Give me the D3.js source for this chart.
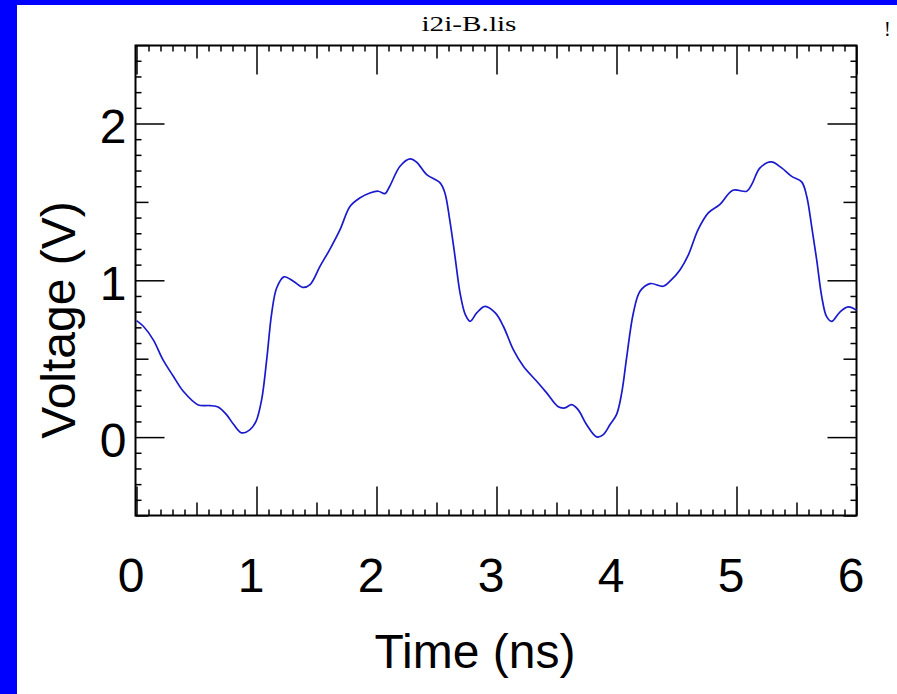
<!DOCTYPE html>
<html lang="en">
<head>
    <meta charset="UTF-8">
    <title>i2i-B.lis</title>
    <style>
      body { margin: 0; background: #fff; }
      svg text { fill: #000; }
    </style>
</head>
<body>

<div id="my_dataviz"></div>

<script src="https://d3js.org/d3.v7.min.js"></script>
<script>
    // waveform: time (ns) and voltage (V)
    const timeNs = [0, 0.057, 0.14, 0.22, 0.307, 0.39, 0.515, 0.61, 0.68, 0.75, 0.81, 0.877, 0.946, 0.996,
      1.043, 1.085, 1.127, 1.168, 1.229, 1.307, 1.385, 1.446, 1.529, 1.61, 1.696, 1.78, 1.86, 1.945,
      2.015, 2.07, 2.11, 2.196, 2.279, 2.335, 2.418, 2.53, 2.57, 2.61, 2.654, 2.696, 2.74, 2.78, 2.835, 2.904, 2.99,
      3.057, 3.14, 3.224, 3.335, 3.418, 3.515, 3.57, 3.626, 3.68, 3.75, 3.835, 3.89, 3.946,
      4.0, 4.043, 4.085, 4.14, 4.196, 4.28, 4.39, 4.446, 4.53, 4.6, 4.68, 4.765, 4.86, 4.97,
      5.085, 5.126, 5.196, 5.29, 5.376, 5.46, 5.543, 5.585, 5.626, 5.668, 5.71, 5.75, 5.793, 5.86, 5.93, 6.0];
    const voltage = [0.743, 0.707, 0.62, 0.494, 0.388, 0.292, 0.205, 0.201, 0.192, 0.143, 0.08, 0.027, 0.048, 0.10,
      0.239, 0.494, 0.792, 0.951, 1.022, 0.994, 0.955, 0.973, 1.089, 1.196, 1.323, 1.472, 1.525, 1.557,
      1.568, 1.553, 1.6, 1.727, 1.774, 1.753, 1.674, 1.621, 1.557, 1.387, 1.153, 0.92, 0.781, 0.738, 0.792, 0.834, 0.792,
      0.707, 0.558, 0.452, 0.356, 0.282, 0.193, 0.186, 0.207, 0.175, 0.08, 0.001, 0.016, 0.08,
      0.143, 0.28, 0.51, 0.79, 0.93, 0.979, 0.962, 0.994, 1.068, 1.164, 1.323, 1.43, 1.483, 1.574,
      1.568, 1.61, 1.717, 1.755, 1.717, 1.663, 1.628, 1.536, 1.345, 1.132, 0.898, 0.77, 0.738, 0.796, 0.83, 0.809];

    const xTickLabels = [0, 1, 2, 3, 4, 5, 6];
    const yTickLabels = [0, 1, 2];
    const xDomain = [0, 6];
    const yDomain = [-0.5, 2.5];

    const W = 897, H = 694;
    const frame = {left: 135.5, right: 856.5, top: 45.5, bottom: 515.5};
    const sans = "'Liberation Sans', Arial, sans-serif";
    const serif = "'Liberation Serif', 'Times New Roman', serif";

    const svg = d3.select("#my_dataviz")
      .append("svg")
        .attr("width", W)
        .attr("height", H);

    // blue page border (left + top)
    svg.append("rect").attr("x", 0).attr("y", 0).attr("width", W).attr("height", H).attr("fill", "#0000ff");
    svg.append("rect").attr("x", 17).attr("y", 5).attr("width", W - 17).attr("height", H - 5).attr("fill", "#fff");

    const x = d3.scaleLinear().domain(xDomain).range([136.5, 856.5]);
    const y = d3.scaleLinear().domain(yDomain).range([frame.bottom, 45.1]);

    // tick positions in tenths
    const xAll = d3.range(0, 61).map(i => i / 10);
    const yAll = d3.range(-5, 26).map(i => i / 10);
    const isMajor = v => Math.abs(v - Math.round(v)) < 1e-6;
    const isHalf = v => !isMajor(v) && Math.abs(v * 2 - Math.round(v * 2)) < 1e-6;
    const isMinor = v => !isMajor(v) && !isHalf(v);

    const sizes = [[isMajor, 29], [isHalf, 13], [isMinor, 6]];

    function drawAxis(make, scale, vals, transform) {
      sizes.forEach(([test, len]) => {
        const g = svg.append("g")
          .attr("transform", transform)
          .call(make(scale).tickValues(vals.filter(test)).tickSize(-len).tickFormat(""));
        g.select(".domain").remove();
        g.selectAll("line").attr("stroke", "#000").attr("stroke-width", 1.5);
      });
    }

    drawAxis(d3.axisBottom, x, xAll, `translate(0,${frame.bottom})`);
    drawAxis(d3.axisTop, x, xAll, `translate(0,${frame.top})`);
    drawAxis(d3.axisLeft, y, yAll, `translate(${frame.left},0)`);
    drawAxis(d3.axisRight, y, yAll, `translate(${frame.right},0)`);

    // frame
    svg.append("rect")
      .attr("x", frame.left).attr("y", frame.top)
      .attr("width", frame.right - frame.left).attr("height", frame.bottom - frame.top)
      .attr("fill", "none").attr("stroke", "#000").attr("stroke-width", 2);

    // tick labels
    const xl = svg.append("g")
      .attr("transform", `translate(0,${frame.bottom})`)
      .call(d3.axisBottom(x).tickValues(xTickLabels).tickSize(0).tickPadding(42).tickFormat(d3.format("d")));
    xl.select(".domain").remove();
    xl.selectAll("text").style("font-family", sans).style("font-size", "48px")
      .attr("fill", "#000").attr("dx", -6);

    const yl = svg.append("g")
      .attr("transform", `translate(${frame.left},0)`)
      .call(d3.axisLeft(y).tickValues(yTickLabels).tickSize(0).tickPadding(9).tickFormat(d3.format("d")));
    yl.select(".domain").remove();
    yl.selectAll("text").style("font-family", sans).style("font-size", "48px")
      .attr("fill", "#000").attr("dy", "0.4em");

    // titles
    svg.append("text")
      .attr("x", 469).attr("y", 31)
      .attr("text-anchor", "middle")
      .style("font-family", serif)
      .style("font-size", "21px")
      .attr("textLength", 95).attr("lengthAdjust", "spacingAndGlyphs")
      .text("i2i-B.lis");

    svg.append("text")
      .attr("x", 884).attr("y", 36)
      .style("font-family", serif)
      .style("font-size", "20px")
      .text("!");

    svg.append("text")
      .attr("x", 475).attr("y", 668)
      .attr("text-anchor", "middle")
      .style("font-family", sans)
      .style("font-size", "48px")
      .text("Time (ns)");

    svg.append("text")
      .attr("transform", "translate(75,320) rotate(-90)")
      .attr("text-anchor", "middle")
      .style("font-family", sans)
      .style("font-size", "48px")
      .text("Voltage (V)");

    // waveform
    const line = d3.line()
      .x((d, i) => x(timeNs[i]))
      .y(d => y(d))
      .curve(d3.curveCatmullRom.alpha(0.5));

    svg.append("path")
      .datum(voltage)
      .attr("fill", "none")
      .attr("stroke", "#1a1acc")
      .attr("stroke-width", 1.7)
      .attr("d", line);
</script>

</body>
</html>
